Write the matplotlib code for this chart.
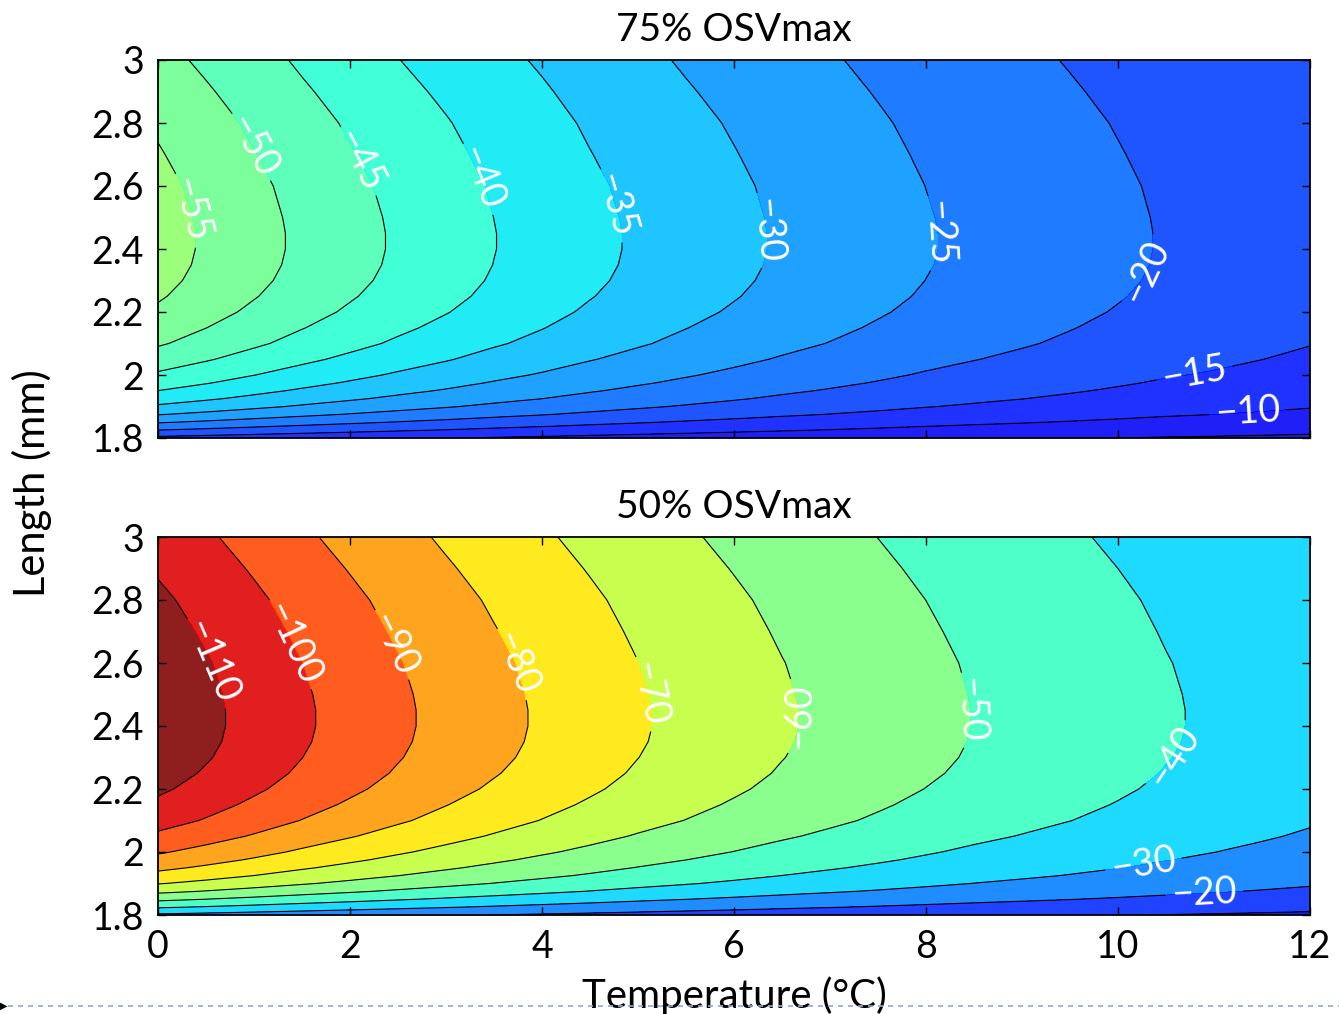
import numpy as np
import matplotlib
matplotlib.use("Agg")
import matplotlib.pyplot as plt
from matplotlib.colors import Normalize
from matplotlib.lines import Line2D

plt.rcParams['font.family'] = ['Lato', 'DejaVu Sans']
plt.rcParams['axes.unicode_minus'] = True

# ---- data ----
# temperature grid (deg C)
temperature = [0, 0.5, 1, 1.5, 2, 2.5, 3, 3.5, 4, 4.5, 5, 5.5, 6, 6.5, 7, 7.5,
               8, 8.5, 9, 9.5, 10, 10.5, 11, 11.5, 12]
# value along the ridge (peak length) for each panel
ridge_75 = [-57.1, -54.4, -51.7, -49.1, -46.7, -44.4, -42.3, -40.1, -38.2, -36.2,
            -34.4, -32.7, -31.1, -29.5, -28.1, -26.7, -25.3, -24.1, -23.0, -21.9,
            -20.8, -19.7, -18.9, -18.0, -17.1]
ridge_50 = [-117.5, -112.2, -106.8, -101.4, -96.5, -91.7, -87.2, -82.9, -78.8, -74.9,
            -71.0, -67.6, -64.3, -61.0, -58.1, -55.3, -52.5, -49.8, -47.5, -45.3,
            -43.1, -40.8, -38.8, -36.8, -34.8]
# length grid (mm) and relative profile across length
length = [1.80, 1.825, 1.85, 1.875, 1.90, 1.925, 1.95, 1.975, 2.00, 2.05, 2.10,
          2.15, 2.20, 2.25, 2.30, 2.35, 2.40, 2.45, 2.50, 2.60, 2.70, 2.80, 2.90, 3.00]
length_factor = [0.24, 0.35, 0.445, 0.53, 0.60, 0.655, 0.70, 0.74, 0.775, 0.835, 0.885,
                 0.92, 0.95, 0.972, 0.987, 0.996, 1.0, 1.0, 0.997, 0.987, 0.97, 0.952,
                 0.928, 0.903]

levels_75 = list(range(-60, 1, 5))
levels_50 = list(range(-120, 1, 10))
labelled_75 = [-55, -50, -45, -40, -35, -30, -25, -20, -15, -10]
labelled_50 = [-110, -100, -90, -80, -70, -60, -50, -40, -30, -20]
titles = ['75% OSVmax', '50% OSVmax']

# label placement (layout only)
label_pos_75 = [(0.28, 2.52), (1.01, 2.73), (2.1, 2.68), (3.4, 2.63), (4.76, 2.54),
                (6.35, 2.46), (8.18, 2.45), (10.28, 2.33), (10.8, 2.0), (11.35, 1.88)]
label_pos_50 = [(0.59, 2.61), (1.46, 2.67), (2.52, 2.67), (3.79, 2.61), (5.18, 2.51),
                (6.69, 2.43), (8.46, 2.45), (10.54, 2.31), (10.26, 1.97), (10.9, 1.86)]

T = np.array(temperature)
L = np.array(length)
H = np.array(length_factor)
Z75 = np.outer(H, np.array(ridge_75))
Z50 = np.outer(H, np.array(ridge_50))

W, Hh = 1339, 1014
fig = plt.figure(figsize=(W / 100, Hh / 100), dpi=100)
norm = Normalize(vmin=-115, vmax=5)
cmap = plt.get_cmap('jet_r')

axes_px = [(158, 60, 1310, 438), (158, 537, 1310, 915)]
datasets = [(Z75, levels_75, label_pos_75, labelled_75),
            (Z50, levels_50, label_pos_50, labelled_50)]

for i, ((x0, y0, x1, y1), (Z, lev, lpos, lablev)) in enumerate(zip(axes_px, datasets)):
    ax = fig.add_axes([x0 / W, 1 - y1 / Hh, (x1 - x0) / W, (y1 - y0) / Hh])
    ax.contourf(T, L, Z, levels=lev, cmap=cmap, norm=norm, alpha=0.88)
    other = [l for l in lev if l not in lablev]
    ax.contour(T, L, Z, levels=other, colors='black', linewidths=0.8,
               linestyles='solid')
    cs = ax.contour(T, L, Z, levels=lablev, colors='black', linewidths=0.8,
                    linestyles='solid')
    ax.clabel(cs, inline=True, fontsize=27, colors='white',
              fmt=lambda v: f"\u2212{abs(int(round(v)))}", manual=lpos, inline_spacing=6)
    ax.set_xlim(0, 12)
    ax.set_ylim(1.8, 3.0)
    ax.set_xticks([0, 2, 4, 6, 8, 10, 12])
    ax.set_yticks([1.8, 2.0, 2.2, 2.4, 2.6, 2.8, 3.0])
    ax.set_yticklabels(['1.8', '2', '2.2', '2.4', '2.6', '2.8', '3'])
    ax.tick_params(direction='in', top=True, right=True, length=6, width=1,
                   labelsize=27, pad=10)
    if i == 0:
        ax.set_xticklabels([])
    else:
        ax.set_xlabel('Temperature (°C)', fontsize=29, labelpad=8)
    for s in ax.spines.values():
        s.set_linewidth(1.3)
    ax.set_title(titles[i], fontsize=28, pad=14)

fig.text(32 / W, 1 - 483 / Hh, 'Length (mm)', rotation=90, ha='center', va='center',
         fontsize=30)

# slide separator
fig.add_artist(Line2D([8 / W, 1.0], [1 - 1006 / Hh, 1 - 1006 / Hh],
                      color='#8faacc', lw=1.2, ls=(0, (3, 3)), transform=fig.transFigure))
fig.text(0 / W, 1 - 1006 / Hh, '\u25b6', fontsize=7, ha='left', va='center',
         family='DejaVu Sans')

fig.savefig('out.png', dpi=100)
